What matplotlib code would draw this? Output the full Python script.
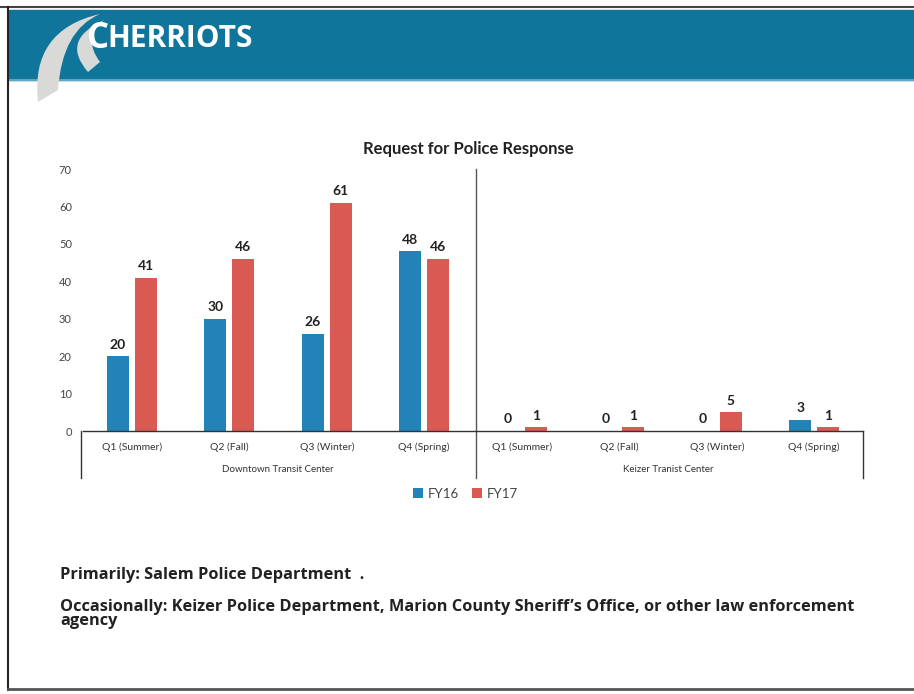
import matplotlib
matplotlib.use("Agg")
import matplotlib.pyplot as plt
import numpy as np
from matplotlib.path import Path
from matplotlib.patches import PathPatch, Rectangle

# ---- data ----
quarters = ["Q1 (Summer)", "Q2 (Fall)", "Q3 (Winter)", "Q4 (Spring)"]
groups = ["Downtown Transit Center", "Keizer Tranist Center"]
fy16 = [20, 30, 26, 48, 0, 0, 0, 3]
fy17 = [41, 46, 61, 46, 1, 1, 5, 1]
series_names = ["FY16", "FY17"]
yticks = [0, 10, 20, 30, 40, 50, 60, 70]
title = "Request for Police Response"
note1 = "Primarily: Salem Police Department  ."
note2 = "Occasionally: Keizer Police Department, Marion County Sheriff\u2019s Office, or other law enforcement\nagency"

BLUE = "#2183b6"
RED = "#d85a53"
HEADER = "#10759a"

W, H = 914, 694
fig = plt.figure(figsize=(W / 100, H / 100), dpi=100)
fig.patch.set_facecolor("white")

# full-figure overlay in pixel coords for slide decorations
bg = fig.add_axes([0, 0, 1, 1])
bg.set_xlim(0, W)
bg.set_ylim(H, 0)
bg.axis("off")
bg.add_patch(Rectangle((9, 10), W - 9, 70, color=HEADER, zorder=1))
bg.plot([9, W], [80, 80], color="#5aa8c4", lw=1.5, zorder=2)
bg.plot([0, W], [7, 7], color="#444444", lw=1.5, zorder=2)
bg.plot([8, 8], [7, 690], color="#222222", lw=1.5, zorder=2)
bg.plot([8, W], [689, 689], color="#555555", lw=2, zorder=2)

# logo swoosh (filled crescents)
def crescent(pts):
    codes = [Path.MOVETO, Path.CURVE3, Path.CURVE3, Path.CURVE3, Path.CURVE3, Path.CLOSEPOLY]
    bg.add_patch(PathPatch(Path(pts + [pts[0]], codes), facecolor="#d9d9d7",
                           edgecolor="none", zorder=3))
crescent([(38, 102), (30, 30), (100, 14), (62, 30), (58, 90)])
crescent([(88, 72), (60, 40), (104, 20), (82, 38), (100, 62)])

bg.text(87, 39, "C", color="white", fontsize=25, fontweight="bold",
        family="Open Sans", va="center", ha="left", zorder=4)
bg.text(107, 39, "HERRIOTS", color="white", fontsize=21.5, fontweight="bold",
        family="Open Sans", va="center", ha="left", zorder=4)

# notes
bg.text(60, 575, note1, fontsize=11.8, fontweight="bold", family="Open Sans",
        color="#222222", va="center", ha="left")
bg.text(60, 614, note2, fontsize=11.8, fontweight="bold", family="Open Sans",
        color="#222222", va="center", ha="left", linespacing=0.8)

# ---- chart ----
left, right, y0, y70 = 83, 863, 431, 169
ax = fig.add_axes([left / W, 1 - y0 / H, (right - left) / W, (y0 - y70) / H])
ax.set_facecolor("none")
n = len(fy16)
x = np.arange(n)
bw = 0.225
off = 0.142
ax.bar(x - off, fy16, bw, color=BLUE, label=series_names[0])
ax.bar(x + off, fy17, bw, color=RED, label=series_names[1])
for xi, v in zip(x, fy16):
    ax.text(xi - off, v + 1.5, str(v), ha="center", va="bottom", fontsize=10,
            fontweight="bold", family="Lato", color="#222222")
for xi, v in zip(x, fy17):
    ax.text(xi + off, v + 1.5, str(v), ha="center", va="bottom", fontsize=10,
            fontweight="bold", family="Lato", color="#222222")

ax.set_xlim(-0.5, n - 0.5)
ax.set_ylim(0, 70)
ax.set_yticks(yticks)
ax.set_yticklabels([str(t) for t in yticks], fontsize=8, family="Lato", color="#444444")
ax.tick_params(axis="y", length=0, pad=8)
ax.set_xticks(x)
ax.set_xticklabels(quarters * 2, fontsize=7.5, family="Lato", color="#333333")
ax.tick_params(axis="x", length=0, pad=8)
for s in ["top", "right", "left"]:
    ax.spines[s].set_visible(False)
ax.spines["bottom"].set_color("#333333")
ax.spines["bottom"].set_linewidth(1.0)

# multi-level category axis lines
trans = ax.get_xaxis_transform()
ax.plot([-0.52, -0.52], [0, -0.18], transform=trans, color="#333333", lw=1, clip_on=False)
ax.plot([n - 0.5, n - 0.5], [0, -0.18], transform=trans, color="#333333", lw=1, clip_on=False)
ax.plot([3.53, 3.53], [1.0, -0.18], transform=trans, color="#555555", lw=1, clip_on=False)
for gi, g in enumerate(groups):
    ax.text(1.5 + 4 * gi, -0.148, g, transform=trans, ha="center", va="center",
            fontsize=7, family="Lato", color="#333333")

ax.set_title(title, fontsize=12, fontweight="bold", family="Lato", color="#222222", pad=11,
             x=0.494)

leg = ax.legend(loc="center", bbox_to_anchor=(0.49, -0.24), ncol=2, frameon=False,
                handlelength=0.8, handleheight=0.8, handletextpad=0.3,
                columnspacing=1.0, prop={"family": "Lato", "size": 9.5})
for t in leg.get_texts():
    t.set_color("#444444")

fig.savefig("out.png", dpi=100)
